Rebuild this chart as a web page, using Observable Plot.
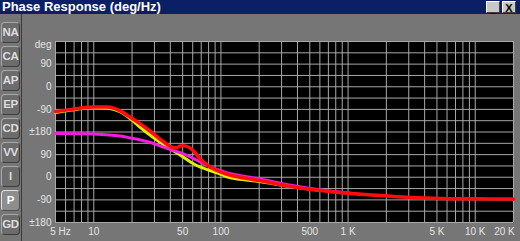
<!DOCTYPE html>
<html>
<head>
<meta charset="utf-8">
<script src="https://cdn.jsdelivr.net/npm/d3@7"></script>
<script src="https://cdn.jsdelivr.net/npm/@observablehq/plot@0.6"></script>
<style>
  body { margin: 0; background: #767676; }
  #win { position: relative; width: 520px; height: 241px; background: #767676; overflow: hidden; font-family: "Liberation Sans", Arial, sans-serif; }
  #title { position: absolute; left: 0; top: 0; width: 518px; height: 14px; padding-left: 2px; background: #0b1f66; color: #fff; font-weight: bold; font-size: 13px; line-height: 14px; }
  .tb { position: absolute; top: 1px; width: 14px; height: 12px; background: #c8c8c8; border: 1px solid; border-color: #fff #404040 #404040 #fff; color: #000; font-weight: bold; font-size: 11px; line-height: 12px; text-align: center; box-sizing: border-box; }
  .btn { position: absolute; left: 1px; width: 19px; height: 21px; box-sizing: border-box; border: 1px solid; border-color: #a8a8a8 #3c3c3c #3c3c3c #a8a8a8; border-radius: 4px; background: #6c6c6c; color: #dcdcdc; font-weight: bold; font-size: 11.5px; line-height: 19px; text-align: center; letter-spacing: -0.3px; }
  .btn.on { background: #8e8e8e; color: #fff; border-color: #e0e0e0 #505050 #505050 #e0e0e0; }
  #sep { position: absolute; left: 21px; top: 14px; width: 1px; height: 227px; background: #3a3a3a; }
  #chart { position: absolute; left: 22px; top: 15px; }
</style>
</head>
<body>
<div id="win">
  <div id="title">Phase Response (deg/Hz)</div>
  <div class="tb" style="left:486px">_</div>
  <div class="tb" style="left:502px">X</div>
  <div id="sep"></div>
  <div id="chart"></div>
</div>
<script>
// ---- data ----
const buttons = ["NA", "CA", "AP", "EP", "CD", "VV", "I", "P", "GD"];
const activeButton = "P";

const xTicks = [5, 10, 50, 100, 500, 1000, 5000, 10000, 20000];
const xLabels = ["5 Hz", "10", "50", "100", "500", "1 K", "5 K", "10 K", "20 K"];

const yTicks = [180, 90, 0, -90, -180, -270, -360, -450, -540];
const yLabels = ["deg", "90", "0", "-90", "±180", "90", "0", "-90", "±180"];

const freqRed = [5, 6.6, 8.6, 10, 12.8, 14.5, 16.2, 19.5, 23.3, 28, 33.5, 40, 44, 48, 53, 58, 63, 69, 83, 100, 119, 206, 354, 611, 1052, 1812, 3120, 5370, 10000, 20000];
const phaseRed = [-99, -90, -83, -81, -81, -86, -97, -122, -148, -178, -210, -238, -243, -236, -236, -246, -264, -288, -320, -340, -352, -374, -397, -413, -425, -433, -441, -445, -446, -447];

const freqYellow = [5, 6.6, 8.6, 10, 12.8, 16.2, 19.5, 23.3, 28, 33.5, 40, 48, 58, 69, 83, 100, 119, 206, 354, 611];
const phaseYellow = [-103, -93, -85, -83, -85, -100, -128, -162, -194, -222, -248, -272, -300, -320, -334, -348, -362, -378, -397, -413];

const freqMagenta = [5, 10, 16.2, 19.5, 23.3, 28, 33.5, 40, 48, 58, 69, 83, 100, 119, 206, 354, 611, 1052];
const phaseMagenta = [-186, -188, -196, -204, -212, -222, -236, -250, -262, -280, -300, -320, -334, -346, -368, -392, -411, -424];

// ---- UI buttons ----
const win = document.getElementById("win");
buttons.forEach((b, i) => {
  const d = document.createElement("div");
  d.className = "btn" + (b === activeButton ? " on" : "");
  d.style.top = (22 + i * 24) + "px";
  d.textContent = b;
  win.appendChild(d);
});

// ---- chart ----
const table = (f, p) => f.map((v, i) => ({f: v, p: p[i]}));
const xGrid = [];
for (let dec = 1; dec <= 10000; dec *= 10) for (let m = 1; m <= 9; m++) { const v = m * dec; if (v >= 5 && v <= 20000) xGrid.push(v); }
const yGrid = d3.range(-540, 181, 45);
const fmtX = new Map(xTicks.map((t, i) => [t, xLabels[i]]));
const fmtY = new Map(yTicks.map((t, i) => [t, yLabels[i]]));
const labelFill = "#e4e4e4";

const chart = Plot.plot({
  width: 498,
  height: 226,
  marginLeft: 33,
  marginRight: 7,
  marginTop: 26,
  marginBottom: 19,
  style: {background: "transparent", color: labelFill, fontFamily: "Liberation Sans, Arial, sans-serif", fontSize: "10px", overflow: "visible"},
  x: {type: "log", domain: [5, 20000], axis: null},
  y: {domain: [-540, 180], axis: null},
  marks: [
    Plot.frame({fill: "black"}),
    Plot.gridX(xGrid, {stroke: "#a8a8a8", strokeOpacity: 1}),
    Plot.gridY(yGrid, {stroke: "#a8a8a8", strokeOpacity: 1}),
    Plot.text(yTicks.slice(1), {y: d => d, text: d => fmtY.get(d), frameAnchor: "left", textAnchor: "end", lineAnchor: "middle", dx: -4, fill: labelFill}),
    Plot.text([yTicks[0]], {y: d => d, text: d => fmtY.get(d), frameAnchor: "left", textAnchor: "end", lineAnchor: "middle", dx: -4, dy: 3, fill: labelFill}),
    Plot.text(xTicks.slice(1, -1), {x: d => d, text: d => fmtX.get(d), frameAnchor: "bottom", lineAnchor: "middle", dy: 9, fill: labelFill}),
    Plot.text([xTicks[0]], {x: d => d, text: d => fmtX.get(d), frameAnchor: "bottom", lineAnchor: "middle", dy: 9, dx: 5, fill: labelFill}),
    Plot.text([xTicks[xTicks.length - 1]], {x: d => d, text: d => fmtX.get(d), frameAnchor: "bottom", lineAnchor: "middle", dy: 9, dx: -9, fill: labelFill}),
    Plot.line(table(freqYellow, phaseYellow), {x: "f", y: "p", stroke: "#dcf000", strokeWidth: 3, curve: "catmull-rom"}),
    Plot.line(table(freqMagenta, phaseMagenta), {x: "f", y: "p", stroke: "#f41ce0", strokeWidth: 3, curve: "catmull-rom"}),
    Plot.line(table(freqRed, phaseRed), {x: "f", y: "p", stroke: "#ff0c0c", strokeWidth: 3.5, curve: "catmull-rom"})
  ]
});
document.getElementById("chart").appendChild(chart);
</script>
</body>
</html>
